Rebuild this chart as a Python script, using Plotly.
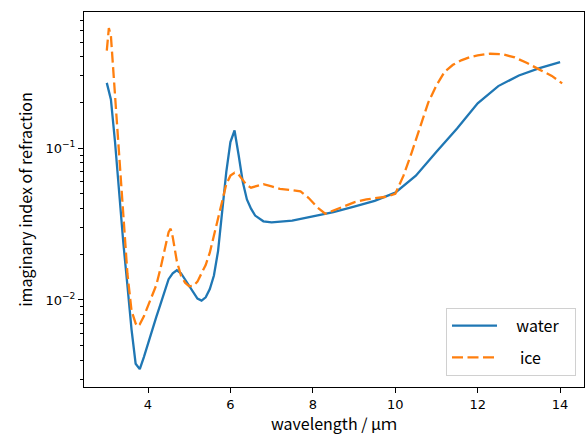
import plotly.graph_objects as go

# Imaginary part of the refractive index of liquid water and ice (3-14 um)
water_wl = [3.0, 3.1, 3.2, 3.3, 3.4, 3.5, 3.6, 3.7, 3.8, 3.9, 4.0, 4.1, 4.2, 4.3,
            4.4, 4.5, 4.6, 4.7, 4.8, 4.9, 5.0, 5.1, 5.2, 5.3, 5.4, 5.5, 5.6, 5.7,
            5.8, 5.9, 6.0, 6.1, 6.2, 6.3, 6.4, 6.5, 6.6, 6.8, 7.0, 7.5, 8.0, 8.5,
            9.0, 9.5, 10.0, 10.5, 11.0, 11.5, 12.0, 12.5, 13.0, 13.5, 14.0]
water_k = [0.27, 0.21, 0.11, 0.048, 0.024, 0.0125, 0.0064, 0.0038, 0.0035, 0.0042,
           0.0052, 0.0063, 0.0077, 0.0093, 0.0112, 0.0137, 0.0150, 0.0157, 0.0150,
           0.0136, 0.0123, 0.0111, 0.0102, 0.0099, 0.0104, 0.0118, 0.0145, 0.021,
           0.037, 0.070, 0.110, 0.131, 0.090, 0.060, 0.046, 0.040, 0.036, 0.033,
           0.0325, 0.0333, 0.0355, 0.0380, 0.0412, 0.0450, 0.0510, 0.066, 0.095,
           0.135, 0.198, 0.257, 0.302, 0.338, 0.37]

ice_wl = [3.0, 3.05, 3.1, 3.2, 3.3, 3.4, 3.5, 3.6, 3.7, 3.75, 3.8, 3.9, 4.0, 4.1,
          4.2, 4.3, 4.4, 4.5, 4.55, 4.6, 4.7, 4.8, 4.9, 5.0, 5.1, 5.2, 5.3, 5.4,
          5.5, 5.6, 5.7, 5.8, 5.9, 6.0, 6.1, 6.2, 6.3, 6.4, 6.5, 6.6, 6.8, 7.0,
          7.2, 7.5, 7.7, 7.9, 8.1, 8.3, 8.5, 8.7, 9.0, 9.3, 9.6, 9.8, 10.0, 10.2,
          10.4, 10.6, 10.8, 11.0, 11.2, 11.4, 11.6, 11.8, 12.0, 12.3, 12.6, 12.9,
          13.2, 13.5, 13.8, 14.05]
ice_k = [0.44, 0.62, 0.55, 0.22, 0.085, 0.040, 0.015, 0.0085, 0.0070, 0.0067,
         0.0069, 0.0078, 0.0092, 0.0107, 0.0125, 0.0160, 0.0210, 0.028, 0.0295,
         0.026, 0.0180, 0.0145, 0.0130, 0.0123, 0.0124, 0.0132, 0.0150, 0.0170,
         0.0205, 0.0265, 0.034, 0.045, 0.058, 0.066, 0.069, 0.067, 0.062, 0.057,
         0.055, 0.056, 0.058, 0.056, 0.054, 0.053, 0.052, 0.047, 0.041, 0.037,
         0.039, 0.041, 0.044, 0.046, 0.047, 0.048, 0.050, 0.066, 0.094, 0.138,
         0.200, 0.260, 0.320, 0.355, 0.380, 0.398, 0.410, 0.420, 0.417, 0.397,
         0.365, 0.330, 0.300, 0.268]

x_ticks = [4, 6, 8, 10, 12, 14]
y_major = [0.01, 0.1]
y_major_text = ["10<sup>−2</sup>", "10<sup>−1</sup>"]
y_minor = [0.003, 0.004, 0.005, 0.006, 0.007, 0.008, 0.009,
           0.02, 0.03, 0.04, 0.05, 0.06, 0.07, 0.08, 0.09,
           0.2, 0.3, 0.4, 0.5, 0.6, 0.7]

label_font = dict(family="Noto Sans CJK SC", size=16, color="black")
tick_font = dict(family="DejaVu Sans", size=13, color="black")

NB = "\u00a0"
fig = go.Figure()
fig.add_trace(go.Scatter(x=water_wl, y=water_k, mode="lines",
                         name=NB * 4 + "water" + NB * 3, legendgroup="w",
                         line=dict(color="#1f77b4", width=2.3)))
fig.add_trace(go.Scatter(x=ice_wl, y=ice_k, mode="lines",
                         name=NB * 5 + "ice", legendgroup="i",
                         line=dict(color="#ff7f0e", width=2.3, dash="11px,4.5px")))

fig.update_layout(
    width=586, height=435,
    margin=dict(l=84, r=2, t=12, b=48),
    plot_bgcolor="white", paper_bgcolor="white",
    showlegend=True,
    legend=dict(x=0.984, y=0.03, xanchor="right", yanchor="bottom",
                bgcolor="white", bordercolor="#d0d0d0", borderwidth=1,
                font=dict(family="Noto Sans CJK SC", size=16, color="black"),
                itemwidth=45, tracegroupgap=8),
)
fig.update_xaxes(
    range=[2.447, 14.58], tickvals=x_ticks, ticks="outside", ticklen=5,
    tickwidth=1, tickcolor="black", showline=True, linecolor="black",
    linewidth=1, mirror=True, showgrid=False, zeroline=False,
    tickfont=tick_font,
    title=dict(text="wavelength / μｍ", font=label_font, standoff=6),
)
fig.update_yaxes(
    type="log", range=[-2.574, -0.1015], tickvals=y_major, ticktext=y_major_text,
    ticks="outside", ticklen=5, tickwidth=1, tickcolor="black",
    minor=dict(tickvals=y_minor, ticks="outside", ticklen=3, tickcolor="black",
               tickwidth=0.8),
    showline=True, linecolor="black", linewidth=1, mirror=True,
    showgrid=False, zeroline=False, tickfont=tick_font,
    title=dict(text="imaginary index of refraction", font=label_font, standoff=8),
)

fig.write_html("out.html")
